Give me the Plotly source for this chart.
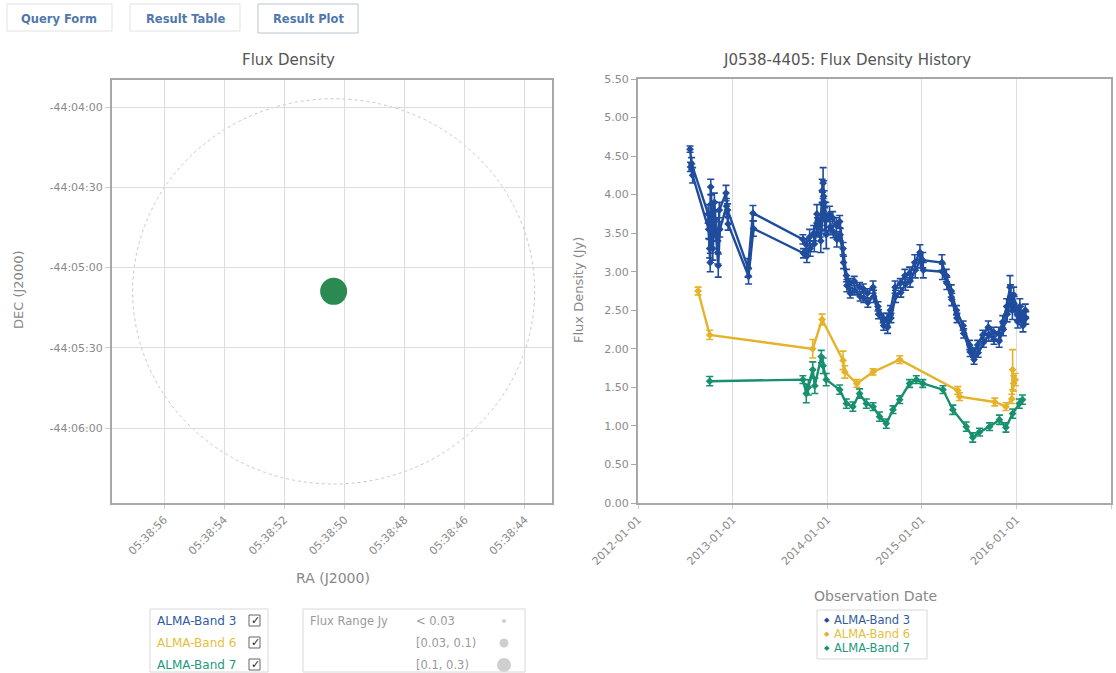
import math
import plotly.graph_objects as go

# ---------------- data ----------------
source_name = "J0538-4405"
source_ra = "05:38:50.36"
source_dec = "-44:05:08.9"
beam_radius_arcsec = 72.0

ra_tick_seconds = [56, 54, 52, 50, 48, 46, 44]
ra_tick_labels = ["05:38:56", "05:38:54", "05:38:52", "05:38:50", "05:38:48", "05:38:46", "05:38:44"]
dec_tick_offsets = [-240, -270, -300, -330, -360]
dec_tick_labels = ["-44:04:00", "-44:04:30", "-44:05:00", "-44:05:30", "-44:06:00"]

year_ticks = ["2012-01-01", "2013-01-01", "2014-01-01", "2015-01-01", "2016-01-01", "2017-01-01"]
flux_ticks = [0.0, 0.5, 1.0, 1.5, 2.0, 2.5, 3.0, 3.5, 4.0, 4.5, 5.0, 5.5]

# Band 3, lower sub-band (91.5 GHz)
b3a_dates = ["2012-07-20", "2012-07-26", "2012-09-28", "2012-10-04", "2012-10-08", "2012-10-14",
             "2012-10-22", "2012-11-04", "2012-11-10", "2012-12-06", "2012-12-12", "2013-03-01",
             "2013-03-20", "2013-09-29", "2013-10-12", "2013-10-25", "2013-11-10", "2013-11-22",
             "2013-12-05", "2013-12-12", "2013-12-16", "2013-12-20", "2013-12-26", "2014-01-10",
             "2014-01-22", "2014-02-05", "2014-02-18", "2014-03-03", "2014-03-16", "2014-03-29",
             "2014-04-15", "2014-05-06", "2014-05-20", "2014-06-05", "2014-06-27", "2014-07-16",
             "2014-08-05", "2014-08-20", "2014-09-02", "2014-09-20", "2014-10-10", "2014-10-28",
             "2014-11-15", "2014-12-05", "2014-12-25", "2015-01-05", "2015-03-20", "2015-04-06",
             "2015-04-25", "2015-05-15", "2015-06-10", "2015-07-05", "2015-07-20", "2015-08-05",
             "2015-08-25", "2015-09-15", "2015-10-05", "2015-10-25", "2015-11-10", "2015-11-25",
             "2015-12-08", "2015-12-15", "2015-12-22", "2016-01-05", "2016-01-15", "2016-01-25",
             "2016-02-05"]
b3a_flux = [4.59, 4.40, 3.75, 3.30, 4.10, 3.55,
            3.90, 3.25, 3.80, 4.02, 3.80, 3.05,
            3.76, 3.42, 3.35, 3.45, 3.50, 3.75,
            3.60, 4.05, 4.15, 3.90, 3.70, 3.75,
            3.70, 3.60, 3.65, 3.30, 2.95, 2.85,
            2.88, 2.80, 2.78, 2.72, 2.80, 2.55,
            2.40, 2.38, 2.50, 2.80, 2.85, 2.95,
            2.98, 3.12, 3.25, 3.15, 3.12, 2.95,
            2.75, 2.50, 2.30, 2.05, 1.95, 2.05,
            2.18, 2.28, 2.22, 2.20, 2.35, 2.55,
            2.80, 2.60, 2.70, 2.45, 2.55, 2.40,
            2.50]
b3a_err = [0.04, 0.08, 0.12, 0.12, 0.10, 0.15,
           0.12, 0.15, 0.10, 0.10, 0.08, 0.12,
           0.10, 0.06, 0.08, 0.10, 0.10, 0.12,
           0.15, 0.15, 0.20, 0.15, 0.20, 0.10,
           0.08, 0.10, 0.08, 0.08, 0.08, 0.06,
           0.06, 0.06, 0.06, 0.06, 0.08, 0.06,
           0.06, 0.08, 0.06, 0.08, 0.06, 0.08,
           0.08, 0.10, 0.10, 0.10, 0.10, 0.08,
           0.08, 0.06, 0.06, 0.06, 0.06, 0.06,
           0.06, 0.08, 0.06, 0.08, 0.08, 0.10,
           0.15, 0.12, 0.10, 0.08, 0.10, 0.08,
           0.08]

# Band 3, upper sub-band (103.5 GHz)
b3b_dates = ["2012-07-22", "2012-07-30", "2012-09-30", "2012-10-06", "2012-10-10", "2012-10-16",
             "2012-10-24", "2012-11-06", "2012-11-12", "2012-12-08", "2012-12-14", "2013-03-03",
             "2013-03-22", "2013-10-01", "2013-10-14", "2013-10-27", "2013-11-12", "2013-11-24",
             "2013-12-07", "2013-12-14", "2013-12-18", "2013-12-22", "2013-12-28", "2014-01-12",
             "2014-01-24", "2014-02-07", "2014-02-20", "2014-03-05", "2014-03-18", "2014-03-31",
             "2014-04-17", "2014-05-08", "2014-05-22", "2014-06-07", "2014-06-29", "2014-07-18",
             "2014-08-07", "2014-08-22", "2014-09-04", "2014-09-22", "2014-10-12", "2014-10-30",
             "2014-11-17", "2014-12-07", "2014-12-27", "2015-01-07", "2015-03-22", "2015-04-08",
             "2015-04-27", "2015-05-17", "2015-06-12", "2015-07-07", "2015-07-22", "2015-08-07",
             "2015-08-27", "2015-09-17", "2015-10-07", "2015-10-27", "2015-11-12", "2015-11-27",
             "2015-12-10", "2015-12-17", "2015-12-24", "2016-01-07", "2016-01-17", "2016-01-27",
             "2016-02-07"]
b3b_flux = [4.36, 4.25, 3.55, 3.12, 3.88, 3.30,
            3.68, 3.08, 3.55, 3.85, 3.62, 2.94,
            3.56, 3.24, 3.20, 3.30, 3.36, 3.58,
            3.40, 3.88, 3.98, 3.68, 3.48, 3.58,
            3.52, 3.42, 3.48, 3.12, 2.82, 2.72,
            2.76, 2.68, 2.66, 2.60, 2.68, 2.45,
            2.30, 2.28, 2.40, 2.68, 2.73, 2.84,
            2.88, 3.02, 3.15, 3.02, 3.00, 2.85,
            2.64, 2.40, 2.20, 1.96, 1.86, 1.95,
            2.08, 2.18, 2.12, 2.10, 2.25, 2.45,
            2.68, 2.50, 2.58, 2.35, 2.45, 2.30,
            2.40]
b3b_err = [0.06, 0.10, 0.12, 0.12, 0.12, 0.15,
           0.12, 0.15, 0.10, 0.10, 0.08, 0.10,
           0.10, 0.06, 0.08, 0.10, 0.10, 0.12,
           0.15, 0.15, 0.20, 0.15, 0.18, 0.10,
           0.08, 0.10, 0.08, 0.08, 0.08, 0.06,
           0.06, 0.06, 0.06, 0.06, 0.08, 0.06,
           0.06, 0.08, 0.06, 0.08, 0.06, 0.08,
           0.08, 0.10, 0.10, 0.10, 0.10, 0.08,
           0.08, 0.06, 0.06, 0.06, 0.06, 0.06,
           0.06, 0.08, 0.06, 0.08, 0.08, 0.10,
           0.15, 0.12, 0.10, 0.08, 0.10, 0.08,
           0.08]

# Band 6
b6_dates = ["2012-08-20", "2012-10-04", "2013-11-06", "2013-12-12", "2014-03-03", "2014-03-10",
            "2014-04-25", "2014-06-27", "2014-10-08", "2015-05-20", "2015-05-27", "2015-10-10",
            "2015-11-22", "2015-12-15", "2015-12-18", "2015-12-22", "2015-12-28"]
b6_flux = [2.75, 2.18, 2.00, 2.38, 1.85, 1.70,
           1.55, 1.70, 1.86, 1.46, 1.38, 1.31,
           1.25, 1.35, 1.73, 1.55, 1.60]
b6_err = [0.05, 0.06, 0.12, 0.07, 0.12, 0.08,
          0.05, 0.04, 0.05, 0.05, 0.05, 0.05,
          0.05, 0.06, 0.26, 0.10, 0.08]

# Band 7
b7_dates = ["2012-10-04", "2013-09-29", "2013-10-12", "2013-10-20", "2013-11-06", "2013-11-14",
            "2013-12-09", "2013-12-16", "2013-12-28", "2014-02-18", "2014-03-16", "2014-04-10",
            "2014-05-06", "2014-06-01", "2014-06-27", "2014-07-22", "2014-08-17", "2014-09-12",
            "2014-10-08", "2014-11-15", "2014-12-11", "2015-01-05", "2015-03-24", "2015-05-01",
            "2015-06-22", "2015-07-17", "2015-08-12", "2015-09-20", "2015-10-28", "2015-11-22",
            "2015-12-18", "2016-01-13", "2016-01-25"]
b7_flux = [1.58, 1.60, 1.42, 1.50, 1.73, 1.52,
           1.90, 1.78, 1.60, 1.47, 1.29, 1.25,
           1.42, 1.29, 1.25, 1.12, 1.03, 1.21,
           1.34, 1.55, 1.60, 1.55, 1.47, 1.21,
           0.99, 0.85, 0.92, 0.99, 1.08, 0.98,
           1.16, 1.29, 1.34]
b7_err = [0.06, 0.05, 0.12, 0.10, 0.10, 0.10,
          0.08, 0.10, 0.08, 0.06, 0.06, 0.06,
          0.06, 0.06, 0.05, 0.06, 0.06, 0.05,
          0.05, 0.05, 0.05, 0.05, 0.05, 0.06,
          0.06, 0.06, 0.05, 0.05, 0.06, 0.06,
          0.06, 0.06, 0.06]

band_names = ["ALMA-Band 3", "ALMA-Band 6", "ALMA-Band 7"]
band_colors = ["#1f4c9c", "#e4b32a", "#17906f"]
band_text_colors = ["#2f5c9e", "#e3bf3c", "#1c9a7c"]
flux_range_labels = ["< 0.03", "[0.03, 0.1)", "[0.1, 0.3)"]

# ---------------- helpers ----------------
W, H = 1116, 673
FONT = "DejaVu Sans, Verdana, sans-serif"


def fx(x):
    return x / W


def fy(y):
    return 1 - y / H


def ra_seconds(ra):
    h, m, s = ra.split(":")
    return float(s)


def dec_offset(dec):
    d, m, s = dec.split(":")
    return -(int(m) * 60 + float(s))


src_x = ra_seconds(source_ra)
src_y = dec_offset(source_dec)
_d, _m, _s = source_dec.split(":")
dec_deg = abs(float(_d)) + int(_m) / 60 + float(_s) / 3600
beam_ra_sec = beam_radius_arcsec / (15 * math.cos(math.radians(dec_deg)))

fig = go.Figure()

# ---------------- left panel: sky position ----------------
fig.add_trace(go.Scatter(
    x=[src_x], y=[src_y], mode="markers",
    marker=dict(size=27, color="#2a8a52", line=dict(width=0)),
    xaxis="x", yaxis="y", showlegend=False, hoverinfo="skip"))

fig.add_shape(type="circle", xref="x", yref="y",
              x0=src_x - beam_ra_sec, x1=src_x + beam_ra_sec,
              y0=src_y - beam_radius_arcsec, y1=src_y + beam_radius_arcsec,
              line=dict(color="#c8c8c8", width=1, dash="dot"), layer="below")


# ---------------- right panel: flux history ----------------
def add_band(dates, flux, err, color, name):
    fig.add_trace(go.Scatter(
        x=dates, y=flux, mode="lines+markers", name=name, showlegend=False,
        line=dict(color=color, width=2.4),
        marker=dict(symbol="diamond", size=6, color=color),
        error_y=dict(type="data", array=err, color=color, thickness=1.6, width=3.5),
        xaxis="x2", yaxis="y2"))


add_band(b7_dates, b7_flux, b7_err, band_colors[2], band_names[2])
add_band(b6_dates, b6_flux, b6_err, band_colors[1], band_names[1])
add_band(b3b_dates, b3b_flux, b3b_err, band_colors[0], band_names[0])
add_band(b3a_dates, b3a_flux, b3a_err, band_colors[0], band_names[0])

tick_font = dict(family=FONT, size=11, color="#8a8a8a")
axis_line = "#a8a8a8"

fig.update_layout(
    width=W, height=H,
    margin=dict(l=0, r=0, t=0, b=0, autoexpand=False),
    paper_bgcolor="white", plot_bgcolor="white",
    font=dict(family=FONT, color="#555"),
    showlegend=False,
    xaxis=dict(domain=[fx(112), fx(552)], range=[57.73, 43.10],
               tickmode="array", tickvals=ra_tick_seconds, ticktext=ra_tick_labels,
               tickangle=-45, tickfont=tick_font, ticks="outside", ticklen=4, tickcolor="#ccc",
               showgrid=True, gridcolor="#dcdcdc", gridwidth=1, zeroline=False,
               showline=True, linecolor=axis_line, linewidth=2, mirror=True, anchor="y",
               automargin=False),
    yaxis=dict(domain=[fy(503), fy(80)], range=[-388.0, -229.9],
               tickmode="array", tickvals=dec_tick_offsets, ticktext=dec_tick_labels,
               tickfont=tick_font, ticks="outside", ticklen=5, tickcolor="#ccc",
               showgrid=True, gridcolor="#dcdcdc", gridwidth=1, zeroline=False,
               showline=True, linecolor=axis_line, linewidth=2, mirror=True, anchor="x",
               automargin=False),
    xaxis2=dict(domain=[fx(638), fx(1111)], type="date",
                range=["2012-01-01", "2017-01-01"],
                tickmode="array", tickvals=year_ticks, ticktext=year_ticks,
                tickangle=-45, tickfont=tick_font, ticks="outside", ticklen=4, tickcolor="#ccc",
                showgrid=True, gridcolor="#dcdcdc", gridwidth=1, zeroline=False,
                showline=True, linecolor=axis_line, linewidth=2, mirror=True, anchor="y2",
                automargin=False),
    yaxis2=dict(domain=[fy(503), fy(79)], range=[0, 5.5],
                tickmode="array", tickvals=flux_ticks,
                ticktext=[f"{v:.2f}" for v in flux_ticks],
                tickfont=tick_font, ticks="outside", ticklen=5, tickcolor="#aaa",
                showgrid=False, zeroline=False,
                showline=True, linecolor=axis_line, linewidth=2, mirror=True, anchor="x2",
                automargin=False),
)

annotations = []
shapes = []


def text(x, y, s, size=11, color="#555", xanchor="center", angle=0, bold=False, family=FONT):
    annotations.append(dict(
        x=fx(x), y=fy(y), xref="paper", yref="paper", text=f"<b>{s}</b>" if bold else s,
        showarrow=False, xanchor=xanchor, yanchor="middle", textangle=angle,
        font=dict(family=family, size=size, color=color)))


def rect(x0, y0, x1, y1, line="#ccc", fill="rgba(0,0,0,0)", width=1):
    shapes.append(dict(type="rect", xref="paper", yref="paper",
                       x0=fx(x0), x1=fx(x1), y0=fy(y1), y1=fy(y0),
                       line=dict(color=line, width=width), fillcolor=fill))


# tabs along the top
shapes.append(dict(type="line", xref="paper", yref="paper", x0=fx(2), x1=1, y0=fy(32), y1=fy(32),
                   line=dict(color="#d6d6d6", width=1)))
rect(7, 4, 112, 31, line="#e2e2e2")
rect(130, 4, 240, 31, line="#e2e2e2")
rect(258, 4, 358, 33, line="#b8c4d0", fill="white")
text(59, 19, "Query Form", size=11.5, color="#5078aa", bold=True)
text(185, 19, "Result Table", size=11.5, color="#5078aa", bold=True)
text(308, 19, "Result Plot", size=11.5, color="#5078aa", bold=True)

# titles and axis titles
text(289, 60, "Flux Density", size=15, color="#555")
text(847, 60, f"{source_name}: Flux Density History", size=15, color="#555")
text(333, 578, "RA (J2000)", size=14, color="#888")
text(18, 290, "DEC (J2000)", size=13, color="#888", angle=-90)
text(875, 596, "Observation Date", size=14, color="#888")
text(578, 290, "Flux Density (Jy)", size=13, color="#888", angle=-90)

# band selector box
rect(150, 609, 268, 672, line="#d8d8d8")
for i, (nm, col) in enumerate(zip(band_names, band_text_colors)):
    yy = 621 + 22 * i
    text(155, yy, nm, size=12, color=col, xanchor="left")
    rect(249, yy - 6, 260, yy + 5, line="#666", fill="white")
    text(255, yy - 1, "✓", size=11, color="#222", family="DejaVu Sans")

# flux range box
rect(303, 609, 525, 672, line="#d8d8d8")
text(308, 621, "Flux Range Jy", size=11.5, color="#9a9a9a", xanchor="left")
dot_r = [2, 4.5, 7]
for i, lab in enumerate(flux_range_labels):
    yy = 621 + 22 * i
    text(414, yy, lab, size=11.5, color="#9a9a9a", xanchor="left")
    r = dot_r[i]
    shapes.append(dict(type="circle", xref="paper", yref="paper",
                       x0=fx(504 - r), x1=fx(504 + r), y0=fy(yy + r), y1=fy(yy - r),
                       line=dict(width=0), fillcolor="#cfcfcf"))

# series key for the history panel
rect(817, 610, 927, 659, line="#d8d8d8")
for i, (nm, col) in enumerate(zip(band_names, band_text_colors)):
    yy = 620 + 14 * i
    text(822, yy, "◆", size=7, color=band_colors[i], xanchor="left", family="DejaVu Sans")
    text(832, yy, nm, size=11.5, color=col, xanchor="left")

fig.update_layout(annotations=annotations, shapes=shapes)

fig.write_html("out.html")
